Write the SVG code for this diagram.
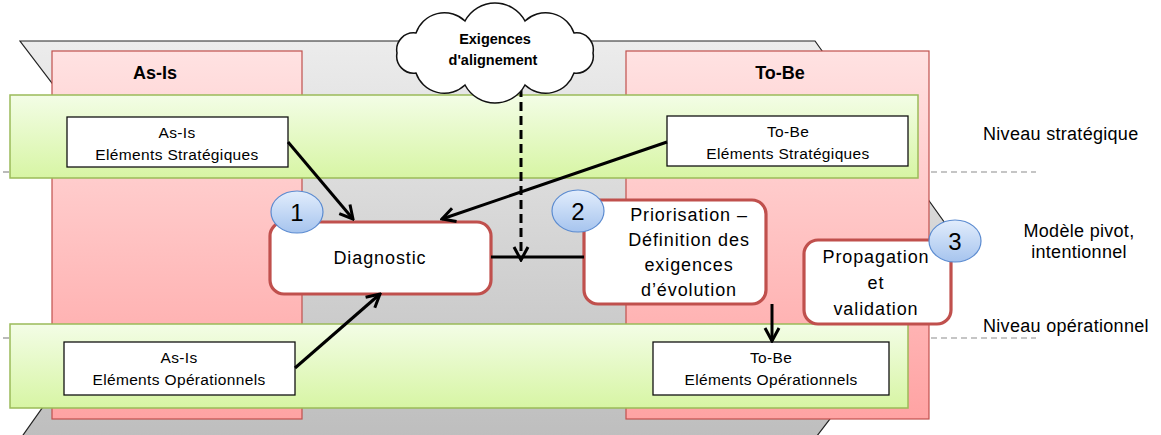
<svg xmlns="http://www.w3.org/2000/svg" width="1161" height="435" viewBox="0 0 1161 435">
<style>
.txt{font-family:"Liberation Sans",Arial,sans-serif;fill:#000;text-anchor:middle}
.box{font-size:15.5px;letter-spacing:0.35px}
.big{font-size:18px;letter-spacing:0.9px}
.title{font-size:18px;font-weight:bold}
.lbl{font-family:"Liberation Sans",Arial,sans-serif;fill:#000;font-size:18px;letter-spacing:0.3px}
.panel{fill:url(#pink);stroke:#c0504d;stroke-width:1.2}
.band{fill:url(#green);stroke:#9bbb59;stroke-width:1.5}
.elem{fill:#fff;stroke:#111;stroke-width:1.3}
.proc{fill:#fff;stroke:#c0504d;stroke-width:3.2}
.step{fill:url(#blue);stroke:#5b8bd0;stroke-width:1.2}
.lvl{stroke:#8c8c8c;stroke-width:1.2;stroke-dasharray:6 4;fill:none}
.arrow{stroke:#000;stroke-width:3;fill:none;marker-end:url(#ah)}
</style>
<defs>
<linearGradient id="gray" x1="0" y1="0" x2="0" y2="1">
<stop offset="0" stop-color="#ececec"/><stop offset="1" stop-color="#bdbdbd"/>
</linearGradient>
<linearGradient id="pink" x1="0" y1="0" x2="0" y2="1">
<stop offset="0" stop-color="#ffe2e2"/><stop offset="1" stop-color="#ffa3a3"/>
</linearGradient>
<linearGradient id="green" x1="0" y1="0" x2="0" y2="1">
<stop offset="0" stop-color="#f3fde6"/><stop offset="1" stop-color="#d7f5a4"/>
</linearGradient>
<linearGradient id="blue" x1="0" y1="0" x2="0" y2="1">
<stop offset="0" stop-color="#e2edfc"/><stop offset="1" stop-color="#a6c4ee"/>
</linearGradient>
<marker id="ah" viewBox="0 0 18 18" refX="16" refY="9" markerWidth="18" markerHeight="18" markerUnits="userSpaceOnUse" orient="auto">
<path d="M3,2 L16,9 L3,16" stroke="#000" stroke-width="3" fill="none"/>
</marker>
</defs>

<g id="level-lines">
<line class="lvl" x1="3" y1="172" x2="10" y2="172"/>
<line class="lvl" x1="921" y1="172" x2="1036" y2="172"/>
<line class="lvl" x1="3" y1="338" x2="10" y2="338"/>
<line class="lvl" x1="911" y1="338" x2="1036" y2="338"/>
</g>

<g id="pivot-plane">
<polygon points="20,41 815,41 962,247 810,445 16,445 166,233" fill="url(#gray)" stroke="#222" stroke-width="1.2"/>
</g>

<g id="as-is-panel">
<rect class="panel" x="52" y="51" width="250" height="368"/>
<text class="txt title" x="155" y="79">As-Is</text>
</g>
<g id="to-be-panel">
<rect class="panel" x="626" y="51" width="303" height="368"/>
<text class="txt title" x="780" y="79">To-Be</text>
</g>

<g id="strategic-band"><rect class="band" x="10" y="95" width="908" height="83"/></g>
<g id="operational-band"><rect class="band" x="10" y="324" width="898" height="84"/></g>

<g id="as-is-strat">
<rect class="elem" x="67" y="117" width="221" height="50"/>
<text class="txt box" x="177" y="138">As-Is</text>
<text class="txt box" x="177" y="160">Eléments Stratégiques</text>
</g>
<g id="to-be-strat">
<rect class="elem" x="667" y="116" width="241" height="50"/>
<text class="txt box" x="788" y="137">To-Be</text>
<text class="txt box" x="788" y="159">Eléments Stratégiques</text>
</g>
<g id="as-is-oper">
<rect class="elem" x="64" y="342" width="231" height="53"/>
<text class="txt box" x="179" y="363">As-Is</text>
<text class="txt box" x="179" y="385">Eléments Opérationnels</text>
</g>
<g id="to-be-oper">
<rect class="elem" x="653" y="342" width="236" height="53"/>
<text class="txt box" x="771" y="363">To-Be</text>
<text class="txt box" x="771" y="385">Eléments Opérationnels</text>
</g>

<g id="diagnostic">
<rect class="proc" x="270" y="222" width="221" height="72" rx="14"/>
<text class="txt big" x="380" y="264">Diagnostic</text>
</g>
<g id="priorisation">
<rect class="proc" x="584" y="200" width="182" height="104" rx="14"/>
<text class="txt big" x="689" y="221">Priorisation –</text>
<text class="txt big" x="689" y="246">Définition des</text>
<text class="txt big" x="689" y="271">exigences</text>
<text class="txt big" x="689" y="296">d’évolution</text>
</g>
<g id="propagation">
<rect class="proc" x="804" y="240" width="147" height="84" rx="14"/>
<text class="txt big" x="876" y="263">Propagation</text>
<text class="txt big" x="876" y="289">et</text>
<text class="txt big" x="876" y="315">validation</text>
</g>

<g id="connectors">
<line class="arrow" x1="288" y1="142" x2="353" y2="219"/>
<line class="arrow" x1="667" y1="142" x2="442" y2="219"/>
<line class="arrow" x1="295" y1="368" x2="380" y2="294"/>
<line class="arrow" x1="772" y1="304" x2="772" y2="341"/>
<line x1="491" y1="257" x2="584" y2="257" stroke="#000" stroke-width="3"/>
<line class="arrow" x1="521" y1="88" x2="521" y2="260" stroke-dasharray="9 5"/>
</g>

<g id="step-1">
<ellipse class="step" cx="297" cy="212" rx="26" ry="21"/>
<text class="txt" x="297" y="221" font-size="24">1</text>
</g>
<g id="step-2">
<ellipse class="step" cx="578" cy="211" rx="26" ry="21"/>
<text class="txt" x="578" y="220" font-size="24">2</text>
</g>
<g id="step-3">
<ellipse class="step" cx="955" cy="241" rx="26" ry="21"/>
<text class="txt" x="955" y="250" font-size="24">3</text>
</g>

<g id="cloud">
<path d="M593,53 A17,17 0 0 1 574,73 A30,30 0 0 1 525,85 A34,34 0 0 1 465,85 A30,30 0 0 1 416,73 A17,17 0 0 1 397,53 A17,17 0 0 1 416,33 A30,30 0 0 1 465,21 A34,34 0 0 1 525,21 A30,30 0 0 1 574,33 A17,17 0 0 1 593,53 Z" fill="#fff" stroke="#111" stroke-width="1.5"/>
<text class="txt" x="495" y="44" font-size="14.5" font-weight="bold">Exigences</text>
<text class="txt" x="493" y="65" font-size="14.5" font-weight="bold">d'alignement</text>
</g>

<g id="labels">
<text class="lbl" x="983" y="140">Niveau stratégique</text>
<text class="lbl" x="1079" y="237" text-anchor="middle">Modèle pivot,</text>
<text class="lbl" x="1079" y="258" text-anchor="middle">intentionnel</text>
<text class="lbl" x="983" y="332">Niveau opérationnel</text>
</g>
</svg>
